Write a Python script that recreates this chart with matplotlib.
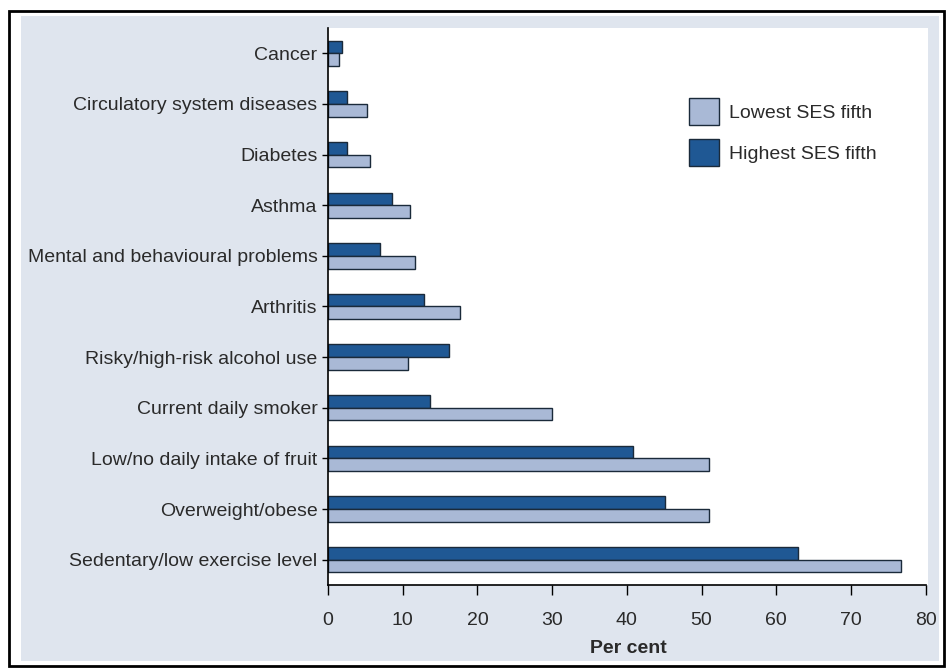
import matplotlib
matplotlib.use("Agg")
import matplotlib.pyplot as plt
from matplotlib.patches import Rectangle, Patch
import numpy as np

categories = ["Cancer", "Circulatory system diseases", "Diabetes", "Asthma",
              "Mental and behavioural problems", "Arthritis", "Risky/high-risk alcohol use",
              "Current daily smoker", "Low/no daily intake of fruit", "Overweight/obese",
              "Sedentary/low exercise level"]
lowest = [1.5, 5.2, 5.6, 11.0, 11.7, 17.7, 10.7, 30.0, 51.0, 51.0, 76.7]
highest = [1.9, 2.6, 2.5, 8.6, 7.0, 12.9, 16.2, 13.7, 40.8, 45.1, 62.9]
xticks = [0, 10, 20, 30, 40, 50, 60, 70, 80]

plt.rcParams['font.family'] = ['Liberation Sans', 'DejaVu Sans']

W, H = 946, 668
fig = plt.figure(figsize=(W / 100, H / 100), dpi=100)
fig.patch.set_facecolor("white")

def fr(x0, y0, x1, y1):
    return (x0 / W, 1 - y1 / H), (x1 - x0) / W, (y1 - y0) / H

xy, w, h = fr(9, 11, 944, 666)
fig.patches.append(Rectangle(xy, w, h, transform=fig.transFigure, facecolor="white",
                             edgecolor="black", linewidth=2, zorder=-2))
xy, w, h = fr(21, 16, 939, 661)
fig.patches.append(Rectangle(xy, w, h, transform=fig.transFigure, facecolor="#dfe5ee",
                             edgecolor="none", zorder=-1))

ax = fig.add_axes([328 / W, 1 - 585 / H, 600 / W, (585 - 28) / H])
ax.set_facecolor("white")

dark = "#1f5894"
light = "#a9b9d6"
txt = "#2a2a2a"
y = np.arange(len(categories))
bh = 0.25
ax.barh(y - bh / 2, highest, height=bh, color=dark, edgecolor="#1a2a3a", linewidth=1.0,
        label="Highest SES fifth")
ax.barh(y + bh / 2, lowest, height=bh, color=light, edgecolor="#1a2a3a", linewidth=1.0,
        label="Lowest SES fifth")

ax.set_ylim(len(categories) - 0.5, -0.5)
ax.set_xlim(0, 80.3)
ax.set_yticks(y)
ax.set_yticklabels(categories, fontsize=14, color=txt)
ax.set_xticks(xticks)
ax.set_xticklabels([str(t) for t in xticks], fontsize=14, color=txt)
ax.tick_params(axis="x", direction="out", length=7.5, width=1, pad=12)
ax.tick_params(axis="y", direction="out", length=4.5, width=1, pad=3)
for s in ["top", "right"]:
    ax.spines[s].set_visible(False)
for s in ["left", "bottom"]:
    ax.spines[s].set_linewidth(1.2)
ax.spines["bottom"].set_bounds(0, 80)
ax.set_xlabel("Per cent", fontsize=14, fontweight="bold", color=txt, labelpad=8)

handles = [Patch(facecolor=light, edgecolor="#1a2a3a", label="Lowest SES fifth"),
           Patch(facecolor=dark, edgecolor="#1a2a3a", label="Highest SES fifth")]
ax.legend(handles=handles, loc="upper left", bbox_to_anchor=(0.573, 0.906), frameon=False,
          fontsize=14, handlelength=1.55, handleheight=1.75, labelspacing=0.75,
          handletextpad=0.5, labelcolor=txt)

fig.savefig("out.png", dpi=100, facecolor=fig.get_facecolor())
